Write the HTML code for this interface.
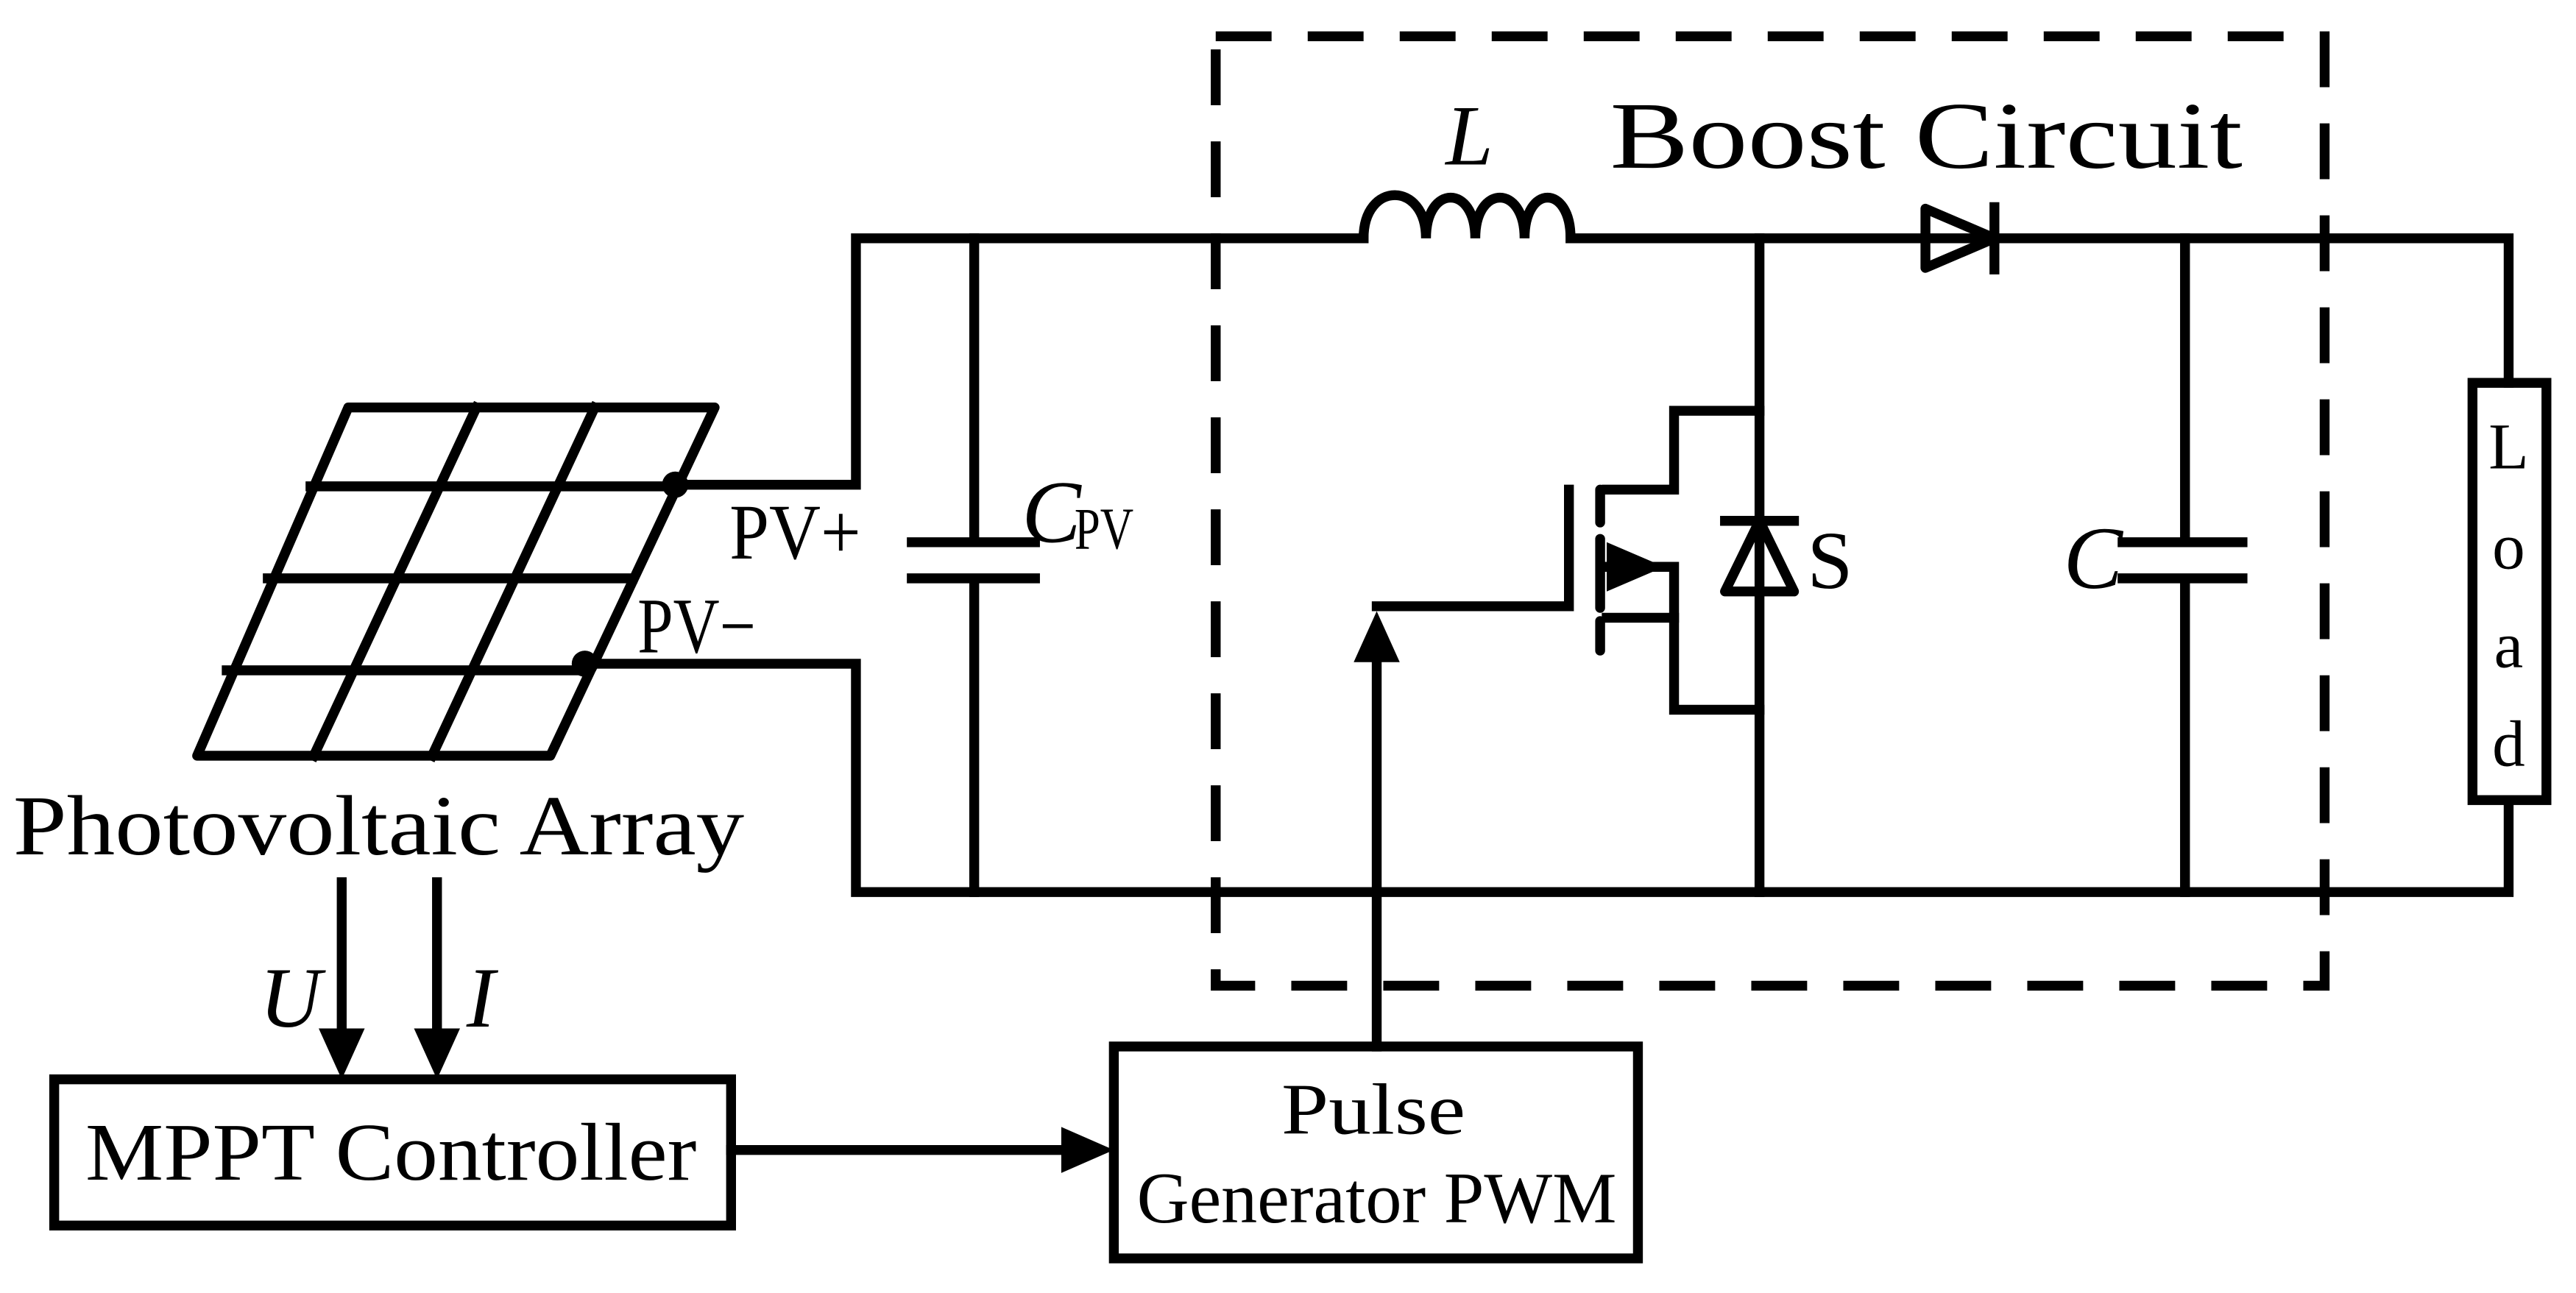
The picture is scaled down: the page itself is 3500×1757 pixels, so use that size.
<!DOCTYPE html>
<html><head><meta charset="utf-8"><style>html,body{margin:0;padding:0;background:#fff}svg{display:block}</style></head>
<body>
<svg width="3500" height="1757" viewBox="0 0 1568 787" xmlns="http://www.w3.org/2000/svg" font-family="Liberation Serif, serif">
<rect width="1568" height="787" fill="#fff"/>
<g stroke="#000" stroke-width="6" fill="none" stroke-linecap="square">
<rect x="740" y="22" width="675" height="578" stroke-dasharray="34,22" stroke-linecap="butt"/>
<path d="M410 295 H521 V145 H830"/>
<path d="M830 145 C830 110 868 110 868 145 C868 112 898 112 898 145 C898 112 928 112 928 145 C928 112 956 112 956 145"/>
<path d="M956 145 H1527 V233"/>
<path d="M355 404 H521 V543 H1527 V487"/>
<rect x="1505" y="233" width="45" height="254"/>
<path d="M593 145 V330 M555 330 H630 M555 352 H630 M593 352 V543"/>
<path d="M1330 145 V330 M1292 330 H1365 M1292 352 H1365 M1330 352 V543"/>
<path d="M1071 145 V543"/>
<path d="M1071 250 H1019 V298 H978"/>
<path d="M1071 432 H1019 V376 H978"/>
<path d="M838 369 H955 V298"/>
<path d="M974 298 V318 M974 328 V370 M974 378 V396" stroke-linecap="round"/>
<path d="M978 345 H1019 V376"/>
<path d="M1050 317 H1092 M1050 360 H1092 L1071 317 L1050 360 Z" stroke-linejoin="round"/>
<path d="M1172 127 V163 L1214 145 Z M1214 126 V164" stroke-linejoin="round"/>
<path d="M838 637 V395"/>
<rect x="678" y="637" width="319" height="129"/>
<rect x="33" y="657" width="412" height="89"/>
<path d="M445 700 H650"/>
<path d="M208 537 V628 M266 537 V628"/>
<path d="M212 248 H435 L335 460 H120 Z" stroke-linejoin="round"/>
<path d="M189 296 H412 M163 352 H385 M138 408 H358"/>
<path d="M290 248 L191 460 M362 248 L263 460"/>
</g>
<g fill="#000">
<polygon points="978,330 1013,345 978,360"/>
<polygon points="838,372 824,403 852,403"/>
<polygon points="678,700 646,686 646,714"/>
<polygon points="208,657 194,626 222,626"/>
<polygon points="266,657 252,626 280,626"/>
<circle cx="411" cy="295" r="8"/>
<circle cx="356" cy="404" r="8"/>
</g>
<g fill="#000">
<text x="980" y="102" font-size="58" textLength="385" lengthAdjust="spacingAndGlyphs">Boost Circuit</text>
<text x="880" y="100" font-style="italic" font-size="52">L</text>
<text x="8" y="520" textLength="445" lengthAdjust="spacingAndGlyphs" font-size="52">Photovoltaic Array</text>
<text x="52" y="718" textLength="372" lengthAdjust="spacingAndGlyphs" font-size="50">MPPT Controller</text>
<text x="780" y="690" textLength="112" lengthAdjust="spacingAndGlyphs" font-size="44">Pulse</text>
<text x="692" y="744" textLength="292" lengthAdjust="spacingAndGlyphs" font-size="44">Generator PWM</text>
<text x="444" y="340" font-size="48" textLength="80" lengthAdjust="spacingAndGlyphs">PV+</text>
<text x="388" y="397" font-size="48" textLength="72" lengthAdjust="spacingAndGlyphs">PV−</text>
<text x="622" y="330" font-style="italic" font-size="54">C</text>
<text x="654" y="334" font-size="36" textLength="36" lengthAdjust="spacingAndGlyphs">PV</text>
<text x="1256" y="358" font-style="italic" font-size="54">C</text>
<text x="1100" y="358" font-size="50">S</text>
<text x="158" y="625" font-style="italic" font-size="52">U</text>
<text x="284" y="625" font-style="italic" font-size="52">I</text>
<text x="1527" y="285" font-size="40" text-anchor="middle">L</text>
<text x="1527" y="346" font-size="40" text-anchor="middle">o</text>
<text x="1527" y="406" font-size="40" text-anchor="middle">a</text>
<text x="1527" y="466" font-size="40" text-anchor="middle">d</text>
</g>
</svg>
</body></html>
